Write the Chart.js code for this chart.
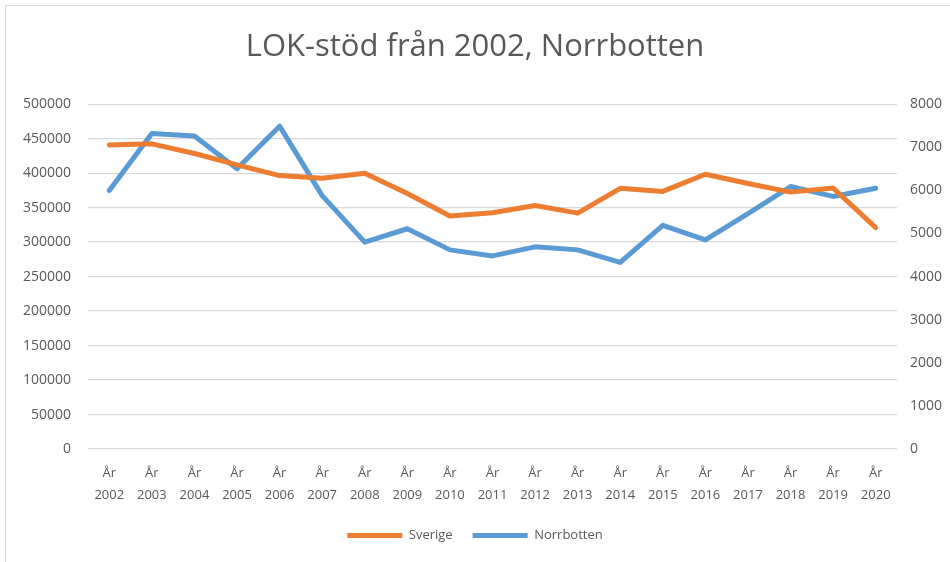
<!DOCTYPE html>
<html>
<head>
<meta charset="utf-8">
<script src="https://cdn.jsdelivr.net/npm/chart.js@4"></script>
<style>
  body { margin: 0; background: #fff; }
  #wrap { position: relative; width: 950px; height: 562px; overflow: hidden; }
  #frame { position: absolute; left: 5px; top: 5px; width: 1000px; height: 600px; border: 1px solid #d9d9d9; pointer-events: none; }
  canvas { position: absolute; left: 0; top: 0; }
</style>
</head>
<body>
<div id="wrap">
  <canvas id="myChart" width="950" height="562"></canvas>
  <div id="frame"></div>
</div>
<script>
const years = ['2002','2003','2004','2005','2006','2007','2008','2009','2010','2011',
  '2012','2013','2014','2015','2016','2017','2018','2019','2020'];
const sverige = [441000, 442500, 428500, 412000, 396500, 392500, 400000, 370500, 338000, 342500,
  353000, 342000, 378000, 373500, 398500, 385000, 372500, 378500, 321000]; // left axis
const norrbotten = [6000, 7320, 7260, 6500, 7490, 5880, 4800, 5110, 4620, 4480,
  4690, 4620, 4330, 5190, 4850, 5460, 6090, 5860, 6050]; // right axis

const textColor = '#595959';

const myChart = new Chart('myChart', {
  type: 'line',
  data: {
    labels: years.map(y => ['År', y]),
    datasets: [
      {
        label: 'Sverige',
        data: sverige,
        yAxisID: 'y',
        borderColor: '#ED7D31',
        backgroundColor: '#ED7D31',
        borderWidth: 5,
        pointRadius: 0,
        tension: 0,
        borderCapStyle: 'round',
        borderJoinStyle: 'round'
      },
      {
        label: 'Norrbotten',
        data: norrbotten,
        yAxisID: 'y1',
        borderColor: '#5B9BD5',
        backgroundColor: '#5B9BD5',
        borderWidth: 5,
        pointRadius: 0,
        tension: 0,
        borderCapStyle: 'round',
        borderJoinStyle: 'round'
      }
    ]
  },
  options: {
    responsive: false,
    animation: false,
    layout: { padding: { left: 0, right: 0, top: 0, bottom: 10 } },
    plugins: {
      title: {
        display: true,
        text: 'LOK-stöd från 2002, Norrbotten',
        color: textColor,
        font: { family: 'Open Sans', size: 31, weight: 'normal' },
        padding: { top: 29, bottom: 38 }
      },
      legend: {
        position: 'bottom',
        labels: {
          usePointStyle: true,
          pointStyle: 'line',
          pointStyleWidth: 55,
          boxHeight: 13,
          padding: 20,
          color: textColor,
          font: { family: 'Open Sans', size: 13 }
        }
      },
      tooltip: { enabled: false }
    },
    scales: {
      x: {
        offset: true,
        grid: { display: false },
        border: { display: false },
        ticks: {
          color: textColor,
          font: { family: 'Open Sans', size: 13, lineHeight: 1.65 },
          maxRotation: 0,
          autoSkip: false,
          padding: 6
        },
        afterFit: s => { s.height = 60; }
      },
      y: {
        position: 'left',
        min: 0,
        max: 500000,
        grid: { color: '#d9d9d9', lineWidth: 1.3, drawTicks: false },
        border: { display: false },
        ticks: {
          stepSize: 50000,
          color: textColor,
          font: { family: 'Open Sans', size: 14 },
          padding: 17,
          callback: v => String(v)
        },
        afterFit: s => { s.width = 88; }
      },
      y1: {
        position: 'right',
        min: 0,
        max: 8000,
        grid: { display: false, drawTicks: false },
        border: { display: false },
        ticks: {
          stepSize: 1000,
          color: textColor,
          font: { family: 'Open Sans', size: 14 },
          padding: 13,
          callback: v => String(v)
        },
        afterFit: s => { s.width = 53; }
      }
    }
  }
});
</script>
</body>
</html>
